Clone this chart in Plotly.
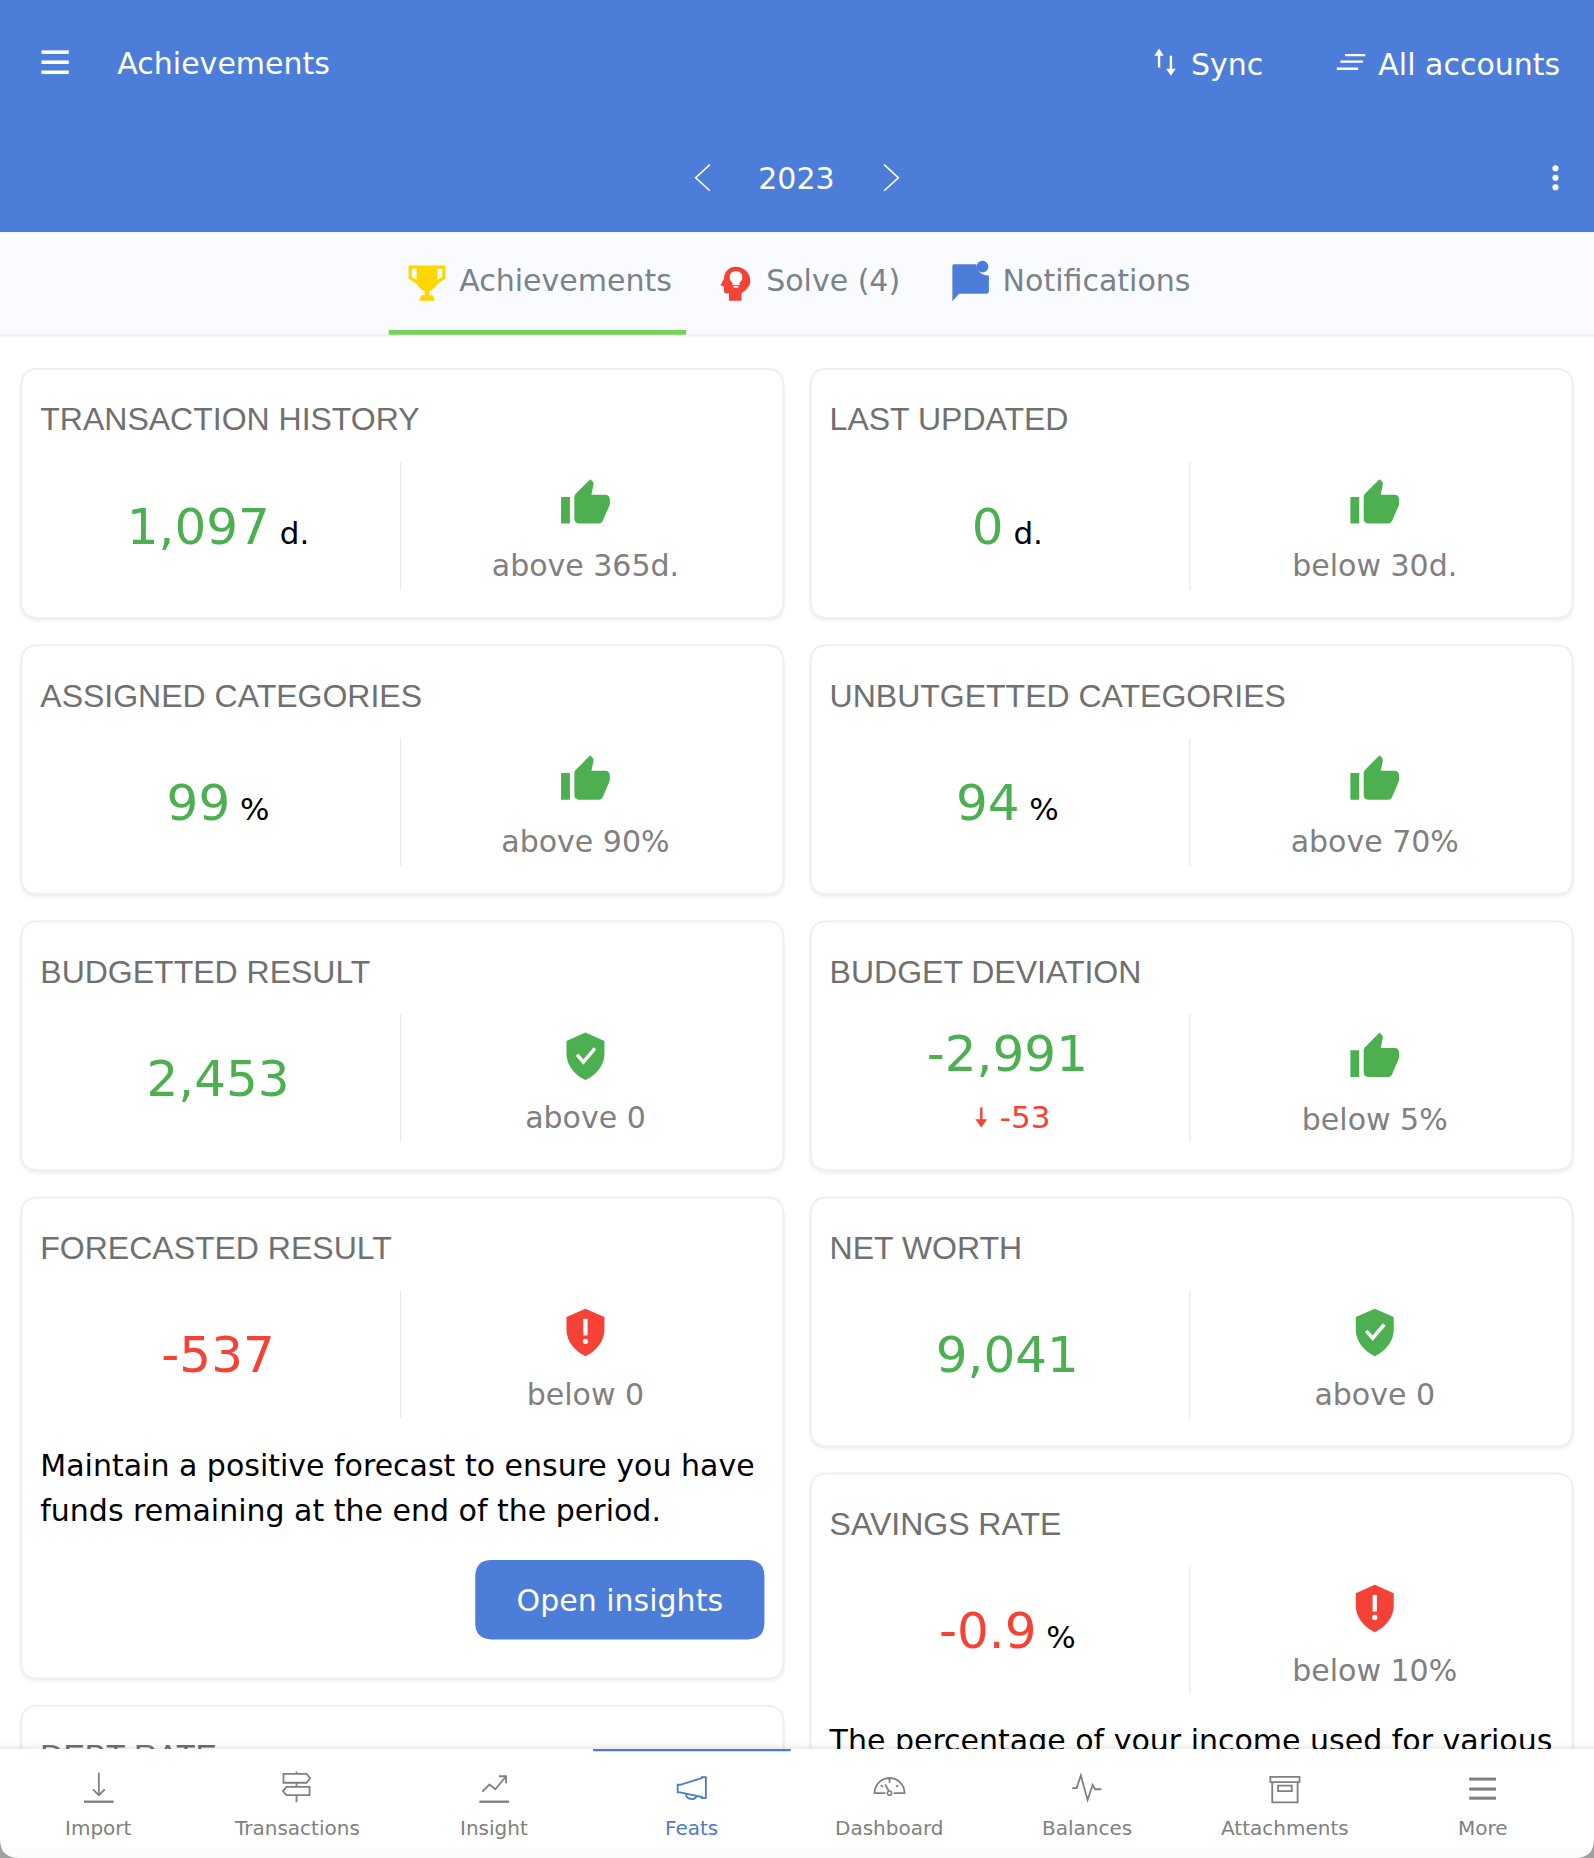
import re
import plotly.graph_objects as go

# reference is laid out on a 1345 x 1568 grid, page is 1594 x 1858
GRID_W, GRID_H = 1345, 1568
PAGE_W, PAGE_H = 1594, 1858

SANS = "DejaVu Sans"
ARIAL = "Liberation Sans"

BLUE = "#4C7DD8"
GREEN = "#4CAF50"
RED = "#F44336"
GREY = "#808080"
TAB_BG = "#FAFBFE"
TAB_GREY = "#78838D"
TITLE_GREY = "#707070"
NAV_GREY = "#808080"
NAV_BLUE = "#4C7BC8"

# header and tabs
screen_title = "Achievements"
sync_label = "Sync"
accounts_label = "All accounts"
year_label = "2023"
tab_labels = ["Achievements", "Solve (4)", "Notifications"]

# left column of cards
left_titles = ["TRANSACTION HISTORY", "ASSIGNED CATEGORIES", "BUDGETTED RESULT", "FORECASTED RESULT", "DEBT RATE"]
left_values = ["1,097", "99", "2,453", "-537", ""]
left_units = ["d.", "%", "", "", ""]
left_limits = ["above 365d.", "above 90%", "above 0", "below 0", ""]
left_marks = ["thumb", "thumb", "ok", "bad", ""]

# right column of cards
right_titles = ["LAST UPDATED", "UNBUTGETTED CATEGORIES", "BUDGET DEVIATION", "NET WORTH", "SAVINGS RATE"]
right_values = ["0", "94", "-2,991", "9,041", "-0.9"]
right_units = ["d.", "%", "", "", "%"]
right_limits = ["below 30d.", "above 70%", "below 5%", "above 0", "below 10%"]
right_marks = ["thumb", "thumb", "thumb", "ok", "bad"]

deviation_delta = "-53"
forecast_note = ["Maintain a positive forecast to ensure you have", "funds remaining at the end of the period."]
savings_note = "The percentage of your income used for various"
button_label = "Open insights"

nav_labels = ["Import", "Transactions", "Insight", "Feats", "Dashboard", "Balances", "Attachments", "More"]

# icon outlines, in a 24 unit box
THUMB = ("M1 21 L5 21 L5 9 L1 9 Z M23 10 C23 8.9 22.1 8 21 8 L14.69 8 L15.64 3.43 L15.67 3.11 "
         "C15.67 2.7 15.5 2.32 15.23 2.05 L14.17 1 L7.59 7.59 C7.22 7.95 7 8.45 7 9 L7 19 "
         "C7 20.1 7.9 21 9 21 L18 21 C18.83 21 19.54 20.5 19.84 19.78 L22.86 12.73 "
         "C22.95 12.5 23 12.26 23 12 Z")
SHIELD = "M12 1 L21 5 L21 11 C21 16.5 17.2 21 12 23.5 C6.8 21 3 16.5 3 11 L3 5 Z"
TROPHY = ("M0.5 1 L23.5 1 L23.5 9 L18 13 C17 15 15 16.5 13.5 17 L13.5 19.5 L15.5 19.5 L17 23 L7 23 "
          "L8.5 19.5 L10.5 19.5 L10.5 17 C9 16.5 7 15 6 13 L0.5 9 Z")
TROPHY_HOLES = "M2.5 3 L5.5 3 L5.5 10 L2.5 8 Z M21.5 3 L18.5 3 L18.5 10 L21.5 8 Z"
HEAD = ("M12 0 C7 0 4 4 4 8.5 L1.5 13 L4 14 L4 18 C5 19 6.5 19 7.5 18.5 L7.5 24 L16.3 24 L16.3 18.5 "
        "C20 16.5 22.5 13 22.5 10 C22.5 4 18 0 12 0 Z")
BUBBLE = ("M2 1.6 L15.5 1.6 C15.5 5.5 18 8 23 8.5 L23 18 C23 19 22 19.5 21 19.5 L5 19.5 L1 24 L1 2.6 "
          "C1 2 1.5 1.6 2 1.6 Z")

NAV_ICONS = [
    ["M12 0 L12 19 M7 14 L12 19 L17 14"],
    ["M12 -1 L12 1 M12 8.5 L12 12 M12 19 L12 25 M1 1 L20.5 1 L23.5 4.75 L20.5 8.5 L1 8.5 Z "
     "M23 12 L3.5 12 L0.5 15.5 L3.5 19 L23 19 Z"],
    ["M2 16 L8 10 L13 14 L22 3 M16 3 L22 3 L22 9"],
    ["M0 10.2 L2.1 10.2 L20.5 4.5 L20.5 3.7 L23.8 3.7 L23.8 21.5 L20.5 21.5 L20.5 20.6 L2.1 16.7 L0 16.7 Z "
     "M7 18 C7 23 15 23.5 16 19.5"],
    ["M8.5 17.2 L-0.7 17.2 C-0.5 10 5 4.5 12 4.5 C19 4.5 24.5 10 24.7 17.2 L15.5 17.2 "
     "M8.3 9.8 L11.4 15.6 M12 4.5 L12 8.5 M4.5 10.5 L6.5 12 M19.5 10.5 L17.5 12"],
    ["M-0.7 13 L3 13 L6.6 2.3 L12.3 23 L16.5 10.3 L18.5 14 L24 14"],
    ["M-0.3 3.5 L24.3 3.5 L24.3 8 L-0.3 8 Z M1.3 8 L1.3 25 L22.7 25 L22.7 8 M6.2 11 L17.8 11 L17.8 15.5 L6.2 15.5 Z"],
    [],
]

shapes = []
traces = []
annotations = []


def place(d, cx, cy, k=1.0):
    # move a 24 unit icon to its spot, plotly needs absolute grid coords here
    out = []
    nums = re.findall(r"[A-Za-z]|-?\d+\.?\d*", d)
    is_x = True
    for tok in nums:
        if tok.isalpha():
            out.append(tok)
            is_x = True
        elif is_x:
            out.append(f"{cx + (float(tok) - 12) * k:.2f}")
            is_x = False
        else:
            out.append(f"{cy + (float(tok) - 12) * k:.2f}")
            is_x = True
    return " ".join(out)


def fill_path(d, color, layer="below"):
    shapes.append(dict(type="path", path=d, fillcolor=color, line=dict(width=0), layer=layer))


def stroke_path(d, color, width=2, layer="below"):
    shapes.append(dict(type="path", path=d, line=dict(color=color, width=width), layer=layer))


def box(x0, y0, x1, y1, color, layer="below"):
    shapes.append(dict(type="rect", x0=x0, y0=y0, x1=x1, y1=y1, fillcolor=color,
                       line=dict(width=0), layer=layer))


def dot(cx, cy, r, color, layer="below"):
    shapes.append(dict(type="circle", x0=cx - r, y0=cy - r, x1=cx + r, y1=cy + r,
                       fillcolor=color, line=dict(width=0), layer=layer))


def rounded(x0, y0, x1, y1, r):
    return (f"M{x0 + r} {y0} L{x1 - r} {y0} Q{x1} {y0} {x1} {y0 + r} L{x1} {y1 - r} Q{x1} {y1} {x1 - r} {y1} "
            f"L{x0 + r} {y1} Q{x0} {y1} {x0} {y1 - r} L{x0} {y0 + r} Q{x0} {y0} {x0 + r} {y0} Z")


def label(x, y, text, size, color, family=SANS, pos="middle center"):
    traces.append(go.Scatter(x=[x], y=[y], text=[text], mode="text", textposition=pos,
                             textfont=dict(family=family, size=size, color=color),
                             hoverinfo="skip", showlegend=False, cliponaxis=False))


def draw_mark(kind, cx, cy):
    if kind == "thumb":
        fill_path(place(THUMB, cx, cy, 1.87), GREEN)
    elif kind == "ok":
        fill_path(place(SHIELD, cx, cy, 1.78), GREEN)
        stroke_path(place("M8 11.5 L11 15 L16.5 8.5", cx, cy, 1.78), "#FFFFFF", 3.5)
    elif kind == "bad":
        fill_path(place(SHIELD, cx, cy, 1.78), RED)
        box(cx - 1.8, cy - 11, cx + 1.8, cy + 3, "#FFFFFF")
        dot(cx, cy + 8, 2.2, "#FFFFFF")


def draw_card(left, top, bottom, title, value, unit, limit, mark, good):
    right = left + 643
    fill_path(rounded(left - 2, top + 3, right + 2, bottom + 4, 16), "rgba(0,0,0,0.025)")
    fill_path(rounded(left - 1, top + 1, right + 1, bottom + 2, 15), "rgba(0,0,0,0.035)")
    shapes.append(dict(type="path", path=rounded(left, top, right, bottom, 14), fillcolor="#FFFFFF",
                       line=dict(color="#F0F0F0", width=2), layer="below"))
    label(left + 16, top + 45, title, 32, TITLE_GREY, ARIAL, "middle right")
    if not value:
        return
    box(left + 319.5, top + 78.5, left + 320.5, top + 186.5, "#E8E8E8")
    color = GREEN if good else RED
    value_y = top + 137
    limit_y = top + 168.5
    mark_y = top + 113.5
    if title == "BUDGET DEVIATION":
        value_y = top + 116
        limit_y = top + 170
        mark_y = top + 114.5
        arrow_x = left + 144
        stroke_path(f"M{arrow_x} {top + 157} L{arrow_x} {top + 170}", RED, 2.4)
        fill_path(f"M{arrow_x - 5} {top + 167} L{arrow_x + 5} {top + 167} L{arrow_x} {top + 174} Z", RED)
        label(left + 181, top + 168, deviation_delta, 31, RED)
    text = f'<span style="color:{color};font-size:50px">{value}</span>'
    if unit:
        text += f'<span style="color:#000000;font-size:31px"> {unit}</span>'
    label(left + 166, value_y, text, 50, color)
    draw_mark(mark, left + 476, mark_y)
    label(left + 476, limit_y, limit, 30, GREY)


# --- header ---
box(0, 0, GRID_W, 196, BLUE)
for bar_y in (44, 52.5, 61):
    box(35, bar_y - 1.5, 58, bar_y + 1.5, "#FFFFFF")
label(99, 56, screen_title, 30, "#FFFFFF", pos="middle right")
stroke_path("M978 46 L978 57", "#FFFFFF", 2.4)
fill_path("M974 47 L982 47 L978 41 Z", "#FFFFFF")
stroke_path("M988 47 L988 59", "#FFFFFF", 2.4)
fill_path("M984 58 L992 58 L988 64 Z", "#FFFFFF")
label(1005, 57, sync_label, 30, "#FFFFFF", pos="middle right")
stroke_path("M1135 46.5 L1152 46.5 M1131 52 L1150 52 M1128 58 L1146 58", "#FFFFFF", 2.4)
label(1163, 57, accounts_label, 30, "#FFFFFF", pos="middle right")
stroke_path("M599 139 L587 150 L599 161", "#FFFFFF", 1.6)
label(672, 153, year_label, 30, "#FFFFFF")
stroke_path("M746 139 L758 150 L746 161", "#FFFFFF", 1.6)
for dot_y in (142, 150, 158):
    dot(1312.5, dot_y, 2.6, "#FFFFFF")

# --- tabs ---
box(0, 196, GRID_W, 282, TAB_BG)
box(0, 282, GRID_W, 284, "#EEEFF2")
box(328, 278.5, 579, 282.5, "#76D25A")
fill_path(place(TROPHY, 360.3, 239, 1.35), "#FFD600")
fill_path(place(TROPHY_HOLES, 360.3, 239, 1.35), TAB_BG)
fill_path(place(HEAD, 620.5, 239.5, 1.2), RED)
dot(621, 234, 5.4, "#FFFFFF")
box(618, 238, 624, 240.6, "#FFFFFF")
box(619, 241.3, 623, 242.7, "#FFFFFF")
fill_path(place(BUBBLE, 819, 237.5, 1.4), BLUE)
dot(829, 225, 5, BLUE)
label(387.5, 239, tab_labels[0], 30, TAB_GREY, pos="middle right")
label(646.5, 239, tab_labels[1], 30, TAB_GREY, pos="middle right")
label(846, 239, tab_labels[2], 30, TAB_GREY, pos="middle right")

# --- cards ---
CARD_H = 210
CARD_GAP = 23
top = 311.5
for i, title in enumerate(left_titles):
    height = 406 if title == "FORECASTED RESULT" else CARD_H
    if title == "DEBT RATE":
        height = 300
    draw_card(18, top, top + height, title, left_values[i], left_units[i], left_limits[i], left_marks[i],
              not left_values[i].startswith("-"))
    if title == "FORECASTED RESULT":
        label(34, top + 228.5, forecast_note[0], 30, "#000000", pos="middle right")
        label(34, top + 266.5, forecast_note[1], 30, "#000000", pos="middle right")
        fill_path(rounded(401, top + 306, 645, top + 373, 14), BLUE)
        label(523, top + 343, button_label, 30, "#FFFFFF")
    top += height + CARD_GAP

top = 311.5
for i, title in enumerate(right_titles):
    height = 500 if title == "SAVINGS RATE" else CARD_H
    # budget deviation is a negative number that still counts as on target
    good = right_marks[i] != "bad"
    draw_card(684, top, top + height, title, right_values[i], right_units[i], right_limits[i], right_marks[i], good)
    if title == "SAVINGS RATE":
        label(700, top + 228, savings_note, 30, "#000000", pos="middle right")
    top += height + CARD_GAP

# --- bottom nav sits over the scrolled cards ---
NAV_TOP = 1476
for step, alpha in ((6, 0.012), (4, 0.02), (2, 0.03)):
    box(0, NAV_TOP - step, GRID_W, NAV_TOP, f"rgba(0,0,0,{alpha})", layer="above")
box(0, NAV_TOP, GRID_W, GRID_H, "#FFFFFF", layer="above")
box(0, GRID_H - 8, GRID_W, GRID_H, "#FCFCFC", layer="above")
fill_path(f"M0 {GRID_H - 16} L0 {GRID_H} L16 {GRID_H} Q0 {GRID_H} 0 {GRID_H - 16} Z", "#A0A0A0", layer="above")
fill_path(f"M{GRID_W} {GRID_H - 16} L{GRID_W} {GRID_H} L{GRID_W - 16} {GRID_H} Q{GRID_W} {GRID_H} {GRID_W} {GRID_H - 16} Z",
          "#A0A0A0", layer="above")

NAV_STEP = 166.8
for i, name in enumerate(nav_labels):
    cx = NAV_STEP * (i + 0.5)
    cy = 1508
    color = NAV_BLUE if name == "Feats" else NAV_GREY
    if name == "Feats":
        box(cx - NAV_STEP / 2, NAV_TOP, cx + NAV_STEP / 2, NAV_TOP + 2, NAV_BLUE, layer="above")
    for d in NAV_ICONS[i]:
        stroke_path(place(d, cx, cy), color, 1.8, layer="above")
    if name in ("Import", "Insight"):
        box(cx - 12.5, cy + 11.5, cx + 12.5, cy + 13.5, color, layer="above")
    if name == "Dashboard":
        shapes.append(dict(type="circle", x0=cx - 1.8, y0=cy + 3.4, x1=cx + 1.8, y1=cy + 7,
                           line=dict(color=color, width=1.6), layer="above"))
    if name == "More":
        for off in (-6.6, 1.8, 9.5):
            box(cx - 11.3, cy + off - 1.3, cx + 11.3, cy + off + 1.3, color, layer="above")
    annotations.append(dict(x=cx, y=1543, xref="x", yref="y", text=name, showarrow=False,
                            xanchor="center", yanchor="middle",
                            font=dict(family=SANS, size=20, color=color)))

fig = go.Figure(data=traces)
fig.update_layout(
    width=PAGE_W,
    height=PAGE_H,
    margin=dict(l=0, r=0, t=0, b=0),
    paper_bgcolor="#FFFFFF",
    plot_bgcolor="#FFFFFF",
    showlegend=False,
    shapes=shapes,
    annotations=annotations,
    xaxis=dict(range=[0, GRID_W], visible=False, fixedrange=True),
    yaxis=dict(range=[GRID_H, 0], visible=False, fixedrange=True),
)
# page body has a default margin, drop it so the header reaches the window edge
fig.write_html("out.html", config={"displayModeBar": False}, post_script="document.body.style.margin='0';")
